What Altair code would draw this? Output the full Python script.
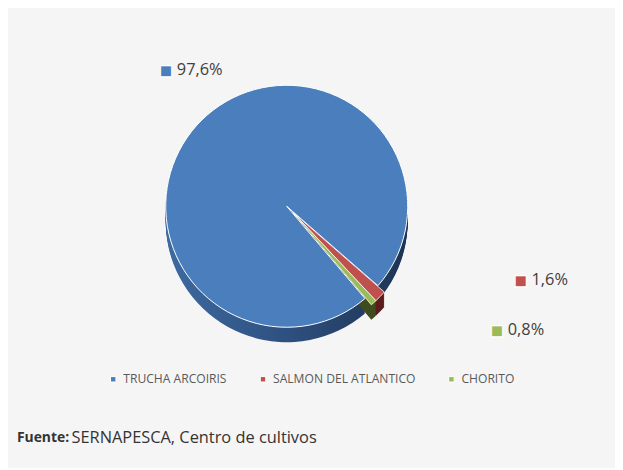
import math
import altair as alt
import pandas as pd

# ---- data ----
especies = ["TRUCHA ARCOIRIS", "SALMON DEL ATLANTICO", "CHORITO"]
porcentajes = [97.6, 1.6, 0.8]
etiquetas = ["97,6%", "1,6%", "0,8%"]
orden = [0, 1, 2]
fuente_bold = "Fuente:"
fuente_rest = "SERNAPESCA, Centro de cultivos"

df = pd.DataFrame({"especie": especies, "pct": porcentajes,
                   "etiqueta": etiquetas, "orden": orden})

# ---- style ----
FONT = "Open Sans"
top_colors = ["#4a7ebd", "#c0504d", "#9bbb59"]
side_colors = ["#2b4a72", "#5a1c1c", "#3f4c1f"]
W, H = 612, 460
CX, CY = 281, 198
R = 122
DEPTH = 15
start = math.radians(139.7)
theta_scale = alt.Scale(domain=[0, 100], range=[start, start + 2 * math.pi])
ang = math.radians(134.5)
EXP = 9
EX, EY = EXP * math.sin(ang), -EXP * math.cos(ang)

base = alt.Chart(df).transform_window(
    cum="sum(pct)", sort=[alt.SortField("orden")], frame=[None, 0]
).transform_calculate(ini="datum.cum - datum.pct", mid="datum.cum - datum.pct / 2")

blue_grad = alt.LinearGradient(
    gradient="linear",
    stops=[alt.GradientStop(color="#3d6aa0", offset=0),
           alt.GradientStop(color="#2e5080", offset=0.5),
           alt.GradientStop(color="#1d3352", offset=1)],
    x1=0, x2=1, y1=0, y2=0)

top_scale = alt.Scale(domain=especies, range=top_colors)


def one(i):
    return base.transform_filter(alt.datum.especie == especies[i])


def arc_enc():
    return dict(theta=alt.Theta("ini:Q", scale=theta_scale, stack=False), theta2="cum:Q")


layers = []
# side walls of the big slice
for k in range(1, DEPTH + 1):
    layers.append(one(0).mark_arc(radius=R, fill=blue_grad).encode(
        x=alt.value(CX), y=alt.value(CY + k), **arc_enc()))
# side walls of the exploded small slices
for i in (1, 2):
    for k in range(1, DEPTH + 1):
        layers.append(one(i).mark_arc(radius=R, fill=side_colors[i]).encode(
            x=alt.value(CX + EX), y=alt.value(CY + EY + k), **arc_enc()))

# legend layer (invisible marks, real legend)
layers.append(alt.Chart(df).mark_point(shape="square", filled=True, size=0).encode(
    color=alt.Color("especie:N", scale=top_scale, sort=especies,
                    legend=alt.Legend(title=None, orient="none", direction="horizontal",
                                      legendX=100, legendY=366, symbolType="square",
                                      symbolSize=30, symbolStrokeColor="#ffffff",
                                      symbolStrokeWidth=1, symbolOpacity=1,
                                      labelFont=FONT, labelFontSize=12.2,
                                      labelColor="#595959", columnPadding=30,
                                      labelOffset=4)),
    x=alt.value(CX), y=alt.value(CY)))

# top of big slice
layers.append(one(0).mark_arc(radius=R, stroke="#ffffff", strokeWidth=1,
                              fill=top_colors[0]).encode(
    x=alt.value(CX), y=alt.value(CY), **arc_enc()))
# top of small slices (exploded)
for i in (1, 2):
    layers.append(one(i).mark_arc(radius=R, stroke="#ffffff", strokeWidth=0.8,
                                  fill=top_colors[i]).encode(
        x=alt.value(CX + EX), y=alt.value(CY + EY), **arc_enc()))

# data labels with coloured key squares
label_cfg = {0: (182, 6, -8), 1: (165, 117, -40), 2: (165, 102, 2)}
for i in range(3):
    rad, ddx, ddy = label_cfg[i]
    pos = dict(theta=alt.Theta("mid:Q", scale=theta_scale, stack=False),
               radius=alt.value(rad), x=alt.value(CX), y=alt.value(CY))
    layers.append(one(i).mark_text(text="■", fontSize=15, color=top_colors[i], dx=ddx, dy=ddy,
                                   stroke="#ffffff", strokeWidth=1.2,
                                   font="DejaVu Sans").encode(**pos))
    layers.append(one(i).mark_text(align="left", fontSize=16.5, color="#404040",
                                   dx=ddx + 11, dy=ddy, font=FONT).encode(
        text="etiqueta:N", **pos))

# source note
note = alt.Chart(pd.DataFrame({"a": [fuente_bold], "b": [fuente_rest]}))
layers.append(note.mark_text(align="left", baseline="middle", fontSize=14, fontWeight="bold",
                             color="#333333", font=FONT).encode(
    text="a:N", x=alt.value(9), y=alt.value(432)))
layers.append(note.mark_text(align="left", baseline="middle", fontSize=16.5,
                             color="#333333", font=FONT).encode(
    text="b:N", x=alt.value(64), y=alt.value(432)))

chart = alt.layer(*layers).properties(
    width=W, height=H, padding=0, background="#f5f5f5",
    autosize=alt.AutoSizeParams(type="fit", contains="padding")
).configure_view(stroke=None)

chart.save("out.html", embed_options={"renderer": "svg", "actions": False})
